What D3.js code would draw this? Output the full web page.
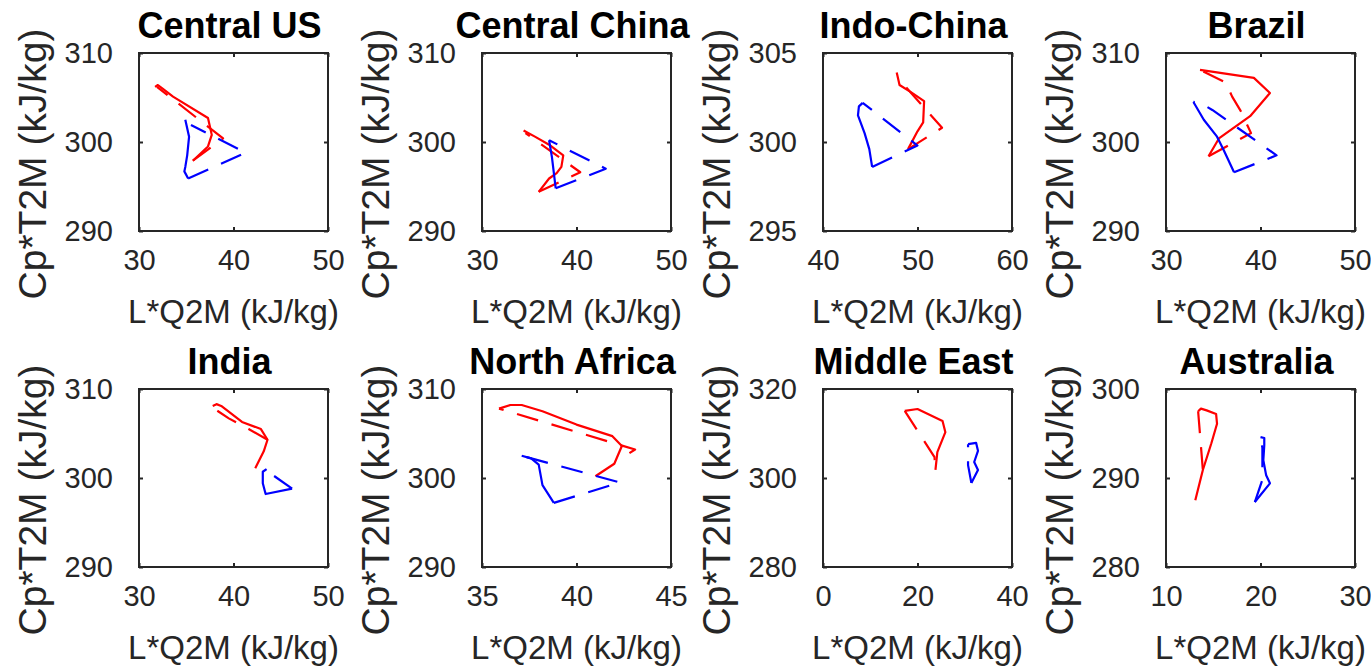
<!DOCTYPE html>
<html>
<head>
<meta charset="utf-8">
<script src="https://cdn.jsdelivr.net/npm/d3@7"></script>
<style>
  body { margin: 0; background: #fff; }
  svg text { font-family: "Liberation Sans", Arial, Helvetica, sans-serif; }
</style>
</head>
<body>
<svg id="chart" width="1371" height="668"></svg>
<script>
const regions = ["Central US", "Central China", "Indo-China", "Brazil",
                 "India", "North Africa", "Middle East", "Australia"];
const xTicks = [[30, 40, 50], [30, 40, 50], [40, 50, 60], [30, 40, 50],
                [30, 40, 50], [35, 40, 45], [0, 20, 40], [10, 20, 30]];
const yTicks = [[290, 300, 310], [290, 300, 310], [295, 300, 305], [290, 300, 310],
                [290, 300, 310], [290, 300, 310], [280, 300, 320], [280, 290, 300]];

// [L*Q2M, Cp*T2M] pairs, one list per region
const redSolid = [
  [[31.7,306.2],[32.0,306.4],[32.5,306.0],[33.6,305.1],[37.3,302.7],[37.7,300.8],[37.3,299.5],[35.7,297.9]],
  [[34.4,301.3],[35.6,300.6],[37.1,299.7],[38.6,298.5],[38.4,297.2],[37.9,296.5],[37.1,295.9],[36.0,294.4]],
  [[47.8,303.9],[48.1,303.2],[49.3,302.8],[50.7,302.3],[50.6,301.1],[50.0,300.6],[49.0,299.6]],
  [[33.6,308.1],[39.3,307.2],[41.0,305.5],[38.9,302.9],[35.6,300.4],[34.5,298.4]],
  [[37.8,308.1],[38.2,308.3],[38.7,308.1],[40.9,306.3],[42.9,305.5],[43.6,304.3],[43.2,303.0],[42.3,301.1]],
  [[35.9,307.8],[36.5,308.2],[37.1,308.2],[38.2,307.5],[40.0,306.0],[41.9,304.7],[42.4,303.6],[42.0,301.6],[41.0,300.2]],
  [[17.3,315.1],[20.0,315.5],[25.3,312.8],[25.9,310.3],[24.2,305.8],[23.8,301.8]],
  [[13.4,297.5],[13.7,297.8],[14.3,297.6],[15.3,297.2],[15.4,296.1],[14.8,293.9],[13.9,290.9],[13.1,287.5]]
];
const redDashed = [
  [[35.7,297.9],[38.9,300.4],[31.9,306.2]],
  [[36.0,294.4],[40.4,296.6],[34.6,301.0]],
  [[49.0,299.6],[52.6,300.8],[47.9,303.6]],
  [[34.5,298.4],[39.0,301.0],[37.9,303.5],[37.0,305.1],[36.3,306.7],[33.6,308.1]],
  [[43.6,304.3],[41.6,305.5],[39.5,306.7],[37.8,307.9]],
  [[42.8,302.8],[43.1,303.2],[35.9,307.8]],
  [[17.3,315.1],[23.6,304.7],[23.8,301.8]],
  [[13.4,297.5],[13.9,290.9]]
];
const blueSolid = [
  [[34.9,302.5],[35.3,300.6],[35.1,298.5],[34.9,297.2],[34.8,296.7],[35.2,295.9]],
  [[37.1,300.2],[37.4,298.3],[37.8,294.8]],
  [[44.2,302.2],[43.8,302.0],[43.7,301.5],[44.4,300.5],[44.9,299.6],[45.2,298.6]],
  [[32.9,304.5],[34.0,302.5],[35.4,300.6],[36.1,299.1],[37.2,296.6]],
  [[43.5,301.0],[43.1,300.7],[43.1,299.4],[43.4,298.2],[46.2,298.8]],
  [[37.1,302.5],[37.6,302.2],[38.0,301.5],[38.2,299.2],[38.8,297.2]],
  [[30.7,307.6],[32.4,307.9],[32.8,306.1],[32.0,303.6],[32.8,301.8],[31.4,298.9]],
  [[20.0,294.6],[20.4,294.5],[20.4,293.7],[20.3,292.0],[20.6,290.3],[21.0,289.4],[19.4,287.3]]
];
const blueDashed = [
  [[35.2,295.9],[41.3,298.8],[35.5,301.9]],
  [[37.8,294.8],[43.1,297.0],[37.1,300.2]],
  [[45.2,298.6],[50.0,299.8],[44.2,302.2]],
  [[37.2,296.6],[41.7,298.5],[34.9,303.6],[33.6,304.4],[32.9,304.5]],
  [[46.2,298.8],[44.2,300.3]],
  [[38.8,297.2],[42.3,299.5],[37.1,302.5]],
  [[31.4,298.9],[30.7,302.9],[30.7,307.6]],
  [[19.4,287.3],[20.2,289.8],[20.2,293.4],[20.0,294.6]]
];

const svg = d3.select("svg#chart");
const colLeft = [139, 482, 823, 1166];
const rowTop = [53, 389];
const boxW = 189, boxH = 178;
const ink = "#262626";

regions.forEach((name, i) => {
  const left = colLeft[i % 4], top = rowTop[Math.floor(i / 4)];
  const g = svg.append("g").attr("transform", `translate(${left},${top})`);
  const xt = xTicks[i], yt = yTicks[i];
  const x = d3.scaleLinear().domain([xt[0], xt[2]]).range([0, boxW]);
  const y = d3.scaleLinear().domain([yt[0], yt[2]]).range([boxH, 0]);

  // ticks (inward, on all four sides)
  g.append("g").attr("transform", `translate(0,${boxH})`)
    .call(d3.axisBottom(x).tickValues(xt).tickSize(-4).tickPadding(18).tickFormat(d3.format("d")))
    .call(a => a.select(".domain").remove());
  g.append("g")
    .call(d3.axisTop(x).tickValues(xt).tickSize(-4).tickFormat(""))
    .call(a => a.select(".domain").remove());
  g.append("g")
    .call(d3.axisLeft(y).tickValues(yt).tickSize(-4).tickPadding(26).tickFormat(d3.format("d")))
    .call(a => a.select(".domain").remove());
  g.append("g").attr("transform", `translate(${boxW},0)`)
    .call(d3.axisRight(y).tickValues(yt).tickSize(-4).tickFormat(""))
    .call(a => a.select(".domain").remove());
  g.selectAll(".tick line").attr("stroke", ink).attr("stroke-width", 2);
  g.selectAll(".tick text").attr("fill", ink).style("font-size", "29px");

  const line = d3.line().x(d => x(d[0])).y(d => y(d[1]));
  const draw = (pts, color, dashed) => g.append("path")
    .datum(pts)
    .attr("d", line)
    .attr("fill", "none")
    .attr("stroke", color)
    .attr("stroke-width", 2.2)
    .attr("stroke-linejoin", "round")
    .attr("stroke-dasharray", dashed ? "22,14" : null);
  draw(redSolid[i], "#ff0000", false);
  draw(redDashed[i], "#ff0000", true);
  draw(blueSolid[i], "#0000ff", false);
  draw(blueDashed[i], "#0000ff", true);

  g.append("rect")
    .attr("width", boxW).attr("height", boxH)
    .attr("fill", "none").attr("stroke", ink).attr("stroke-width", 2);

  g.append("text")
    .attr("x", boxW / 2 - 4).attr("y", -15)
    .attr("text-anchor", "middle")
    .style("font-size", "36px").style("font-weight", "bold")
    .text(name);
  g.append("text")
    .attr("x", boxW / 2).attr("y", boxH + 92)
    .attr("text-anchor", "middle")
    .attr("fill", ink)
    .style("font-size", "33px")
    .text("L*Q2M (kJ/kg)");
  g.append("text")
    .attr("transform", `translate(-93,${boxH / 2 + 22}) rotate(-90)`)
    .attr("text-anchor", "middle")
    .attr("fill", ink)
    .style("font-size", "39px")
    .text("Cp*T2M (kJ/kg)");
});
</script>
</body>
</html>
